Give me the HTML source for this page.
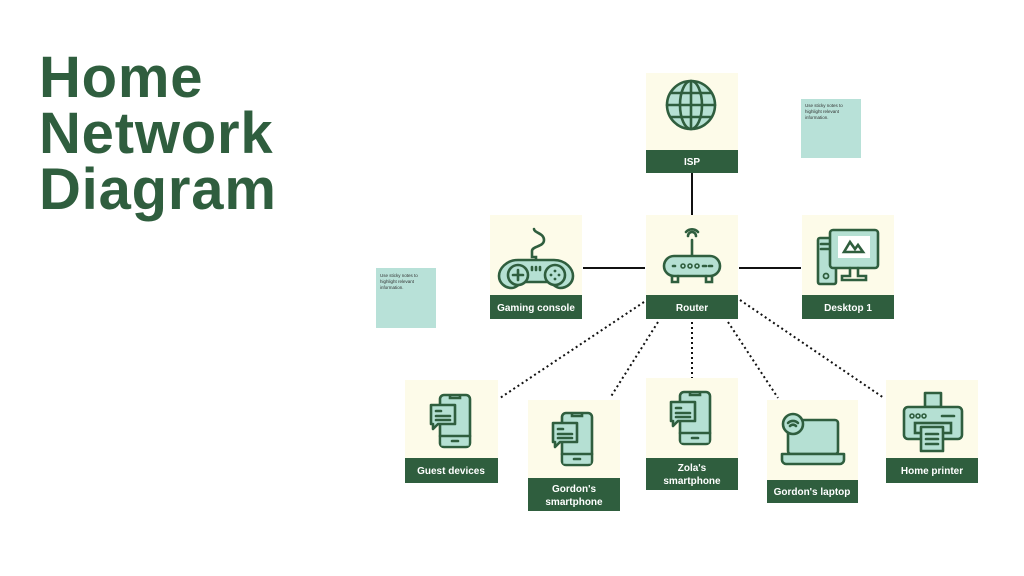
<!DOCTYPE html>
<html><head><meta charset="utf-8"><style>
html,body{margin:0;padding:0;background:#fff;width:1024px;height:576px;overflow:hidden}
svg{display:block}
.t{font-family:"Liberation Sans",sans-serif;font-weight:bold;fill:#2f5e3e;font-size:58px;letter-spacing:0.8px}
.l{font-family:"Liberation Sans",sans-serif;font-weight:bold;fill:#fff;font-size:10px;text-anchor:middle}
.s{font-family:"Liberation Sans",sans-serif;fill:#333;font-size:4.5px}
.ic{fill:#b5e0d3;stroke:#2f5e3e;stroke-width:2.6;stroke-linejoin:round;stroke-linecap:round}
.no{fill:none;stroke:#2f5e3e;stroke-width:2.6;stroke-linecap:round}
</style></head><body>
<svg width="1024" height="576" viewBox="0 0 1024 576">
<text class="t" x="39" y="97">Home</text>
<text class="t" x="39" y="153">Network</text>
<text class="t" x="39" y="209">Diagram</text>

<g stroke="#111" stroke-width="2">
<line x1="692" y1="173" x2="692" y2="215"/>
<line x1="583" y1="268" x2="645" y2="268"/>
<line x1="739" y1="268" x2="801" y2="268"/>
</g>
<g stroke="#111" stroke-width="2" stroke-dasharray="2 3">
<line x1="644" y1="302" x2="500" y2="398"/>
<line x1="658" y1="322" x2="610" y2="398"/>
<line x1="692" y1="322" x2="692" y2="378"/>
<line x1="728" y1="322" x2="778" y2="398"/>
<line x1="740" y1="300" x2="884" y2="398"/>
</g>

<rect x="801" y="99" width="60" height="59" fill="#b8e1d8"/>
<text class="s" x="805" y="107">Use sticky notes to</text>
<text class="s" x="805" y="113">highlight relevant</text>
<text class="s" x="805" y="119">information.</text>
<rect x="376" y="268" width="60" height="60" fill="#b8e1d8"/>
<text class="s" x="380" y="277">Use sticky notes to</text>
<text class="s" x="380" y="283">highlight relevant</text>
<text class="s" x="380" y="289">information.</text>

<g fill="#fdfbe9">
<rect x="646" y="73" width="92" height="77"/>
<rect x="490" y="215" width="92" height="80"/>
<rect x="646" y="215" width="92" height="80"/>
<rect x="802" y="215" width="92" height="80"/>
<rect x="405" y="380" width="93" height="78"/>
<rect x="528" y="400" width="92" height="78"/>
<rect x="646" y="378" width="92" height="80"/>
<rect x="767" y="400" width="91" height="80"/>
<rect x="886" y="380" width="92" height="78"/>
</g>
<g fill="#2f5e3e">
<rect x="646" y="150" width="92" height="23"/>
<rect x="490" y="295" width="92" height="24"/>
<rect x="646" y="295" width="92" height="24"/>
<rect x="802" y="295" width="92" height="24"/>
<rect x="405" y="458" width="93" height="25"/>
<rect x="528" y="478" width="92" height="33"/>
<rect x="646" y="458" width="92" height="32"/>
<rect x="767" y="480" width="91" height="23"/>
<rect x="886" y="458" width="92" height="25"/>
</g>
<text class="l" x="692" y="165">ISP</text>
<text class="l" x="536" y="311">Gaming console</text>
<text class="l" x="692" y="311">Router</text>
<text class="l" x="848" y="311">Desktop 1</text>
<text class="l" x="451" y="474">Guest devices</text>
<text class="l" x="574" y="492">Gordon's</text>
<text class="l" x="574" y="505">smartphone</text>
<text class="l" x="692" y="471">Zola's</text>
<text class="l" x="692" y="484">smartphone</text>
<text class="l" x="812" y="495">Gordon's laptop</text>
<text class="l" x="932" y="474">Home printer</text>

<circle class="ic" cx="691" cy="105" r="24"/>
<ellipse class="no" cx="691" cy="105" rx="11" ry="24"/>
<line class="no" x1="691" y1="81" x2="691" y2="129"/>
<line class="no" x1="667" y1="105" x2="715" y2="105"/>
<line class="no" x1="671" y1="93" x2="711" y2="93"/>
<line class="no" x1="671" y1="117" x2="711" y2="117"/>

<path class="no" d="M536 262v-5h-4v-6c0-5 12-4 12-11s-10-7-10-11"/>
<path class="ic" d="M518 260h36c12 0 19 9 19 16 0 7-6 12-13 12-5 0-8-6-13-6h-22c-5 0-8 6-13 6-7 0-13-5-13-12 0-7 7-16 19-16z"/>
<circle class="ic" cx="518" cy="275" r="10" fill="#fff"/>
<circle class="ic" cx="555" cy="275" r="10" fill="#fff"/>
<path class="no" d="M513 275h10M518 270v10"/>
<circle cx="551" cy="275" r="1.4" fill="#2f5e3e"/><circle cx="559" cy="275" r="1.4" fill="#2f5e3e"/>
<circle cx="555" cy="271" r="1.4" fill="#2f5e3e"/><circle cx="555" cy="279" r="1.4" fill="#2f5e3e"/>
<path class="no" d="M532 267v3M536 267v3M540 267v3"/>

<path class="no" d="M686 232a8 8 0 0 1 12 0M688 236a4 4 0 0 1 8 0"/>
<line class="no" x1="692" y1="240" x2="692" y2="256"/>
<rect class="ic" x="664" y="256" width="56" height="20" rx="10"/>
<path class="no" d="M672 276v6h6v-6M706 276v6h6v-6"/>
<circle cx="683" cy="266" r="2" fill="none" stroke="#2f5e3e" stroke-width="1.6"/>
<circle cx="690" cy="266" r="2" fill="none" stroke="#2f5e3e" stroke-width="1.6"/>
<circle cx="697" cy="266" r="2" fill="none" stroke="#2f5e3e" stroke-width="1.6"/>
<path class="no" d="M703 266h3M709 266h3M673 266h2" stroke-width="1.6"/>

<rect class="ic" x="818" y="238" width="18" height="46" rx="2" fill="#fff"/>
<path class="no" d="M821 244h12M821 249h12"/>
<circle cx="826" cy="276" r="2.5" fill="none" stroke="#2f5e3e" stroke-width="1.8"/>
<rect class="ic" x="830" y="230" width="48" height="38" rx="3"/>
<rect x="838" y="236" width="32" height="22" fill="#fff"/>
<path class="no" d="M844 252l6-10 5 7 3-4 5 7z"/>
<path class="no" d="M850 268v8h-8v4h24v-4h-8v-8"/>

<g id="ph">
<rect class="ic" x="440" y="395" width="30" height="52" rx="4" fill="#fff"/>
<rect x="441.3" y="436" width="27.4" height="9.7" fill="#b5e0d3"/>
<line class="no" x1="440" y1="436" x2="470" y2="436"/>
<path class="no" d="M450 396v2h10v-2M452 441h6"/>
<path class="ic" d="M431 405h24v19h-17l-5 5v-5h-2z"/>
<path class="no" d="M436 411h5M436 416h14M436 420h14" stroke-width="1.8"/>
</g>
<use href="#ph" x="122" y="18"/>
<use href="#ph" x="240" y="-3"/>

<rect class="ic" x="788" y="420" width="50" height="34" rx="3" fill="#fff"/>
<rect x="794" y="425" width="38" height="25" fill="#b5e0d3"/>
<path class="ic" d="M782 454h62v6c0 2-2 4-4 4h-54c-2 0-4-2-4-4z" fill="#fff"/>
<circle class="ic" cx="793" cy="424" r="10" fill="#fff"/>
<path class="no" d="M788 423a7 7 0 0 1 10 0M790 426a4 4 0 0 1 6 0" stroke-width="1.8"/>

<rect class="ic" x="925" y="393" width="16" height="14" fill="#fff"/>
<rect class="ic" x="904" y="407" width="58" height="32" rx="4" fill="#fff"/>
<circle cx="912" cy="416" r="2" fill="none" stroke="#2f5e3e" stroke-width="1.6"/>
<circle cx="918" cy="416" r="2" fill="none" stroke="#2f5e3e" stroke-width="1.6"/>
<circle cx="924" cy="416" r="2" fill="none" stroke="#2f5e3e" stroke-width="1.6"/>
<path class="no" d="M942 416h12"/>
<rect class="no" x="915" y="423" width="36" height="10" fill="#fff"/>
<rect class="ic" x="921" y="427" width="22" height="24"/>
<path class="no" d="M926 434h12M926 439h12M926 444h12" stroke-width="1.8"/>
</svg>
</body></html>
